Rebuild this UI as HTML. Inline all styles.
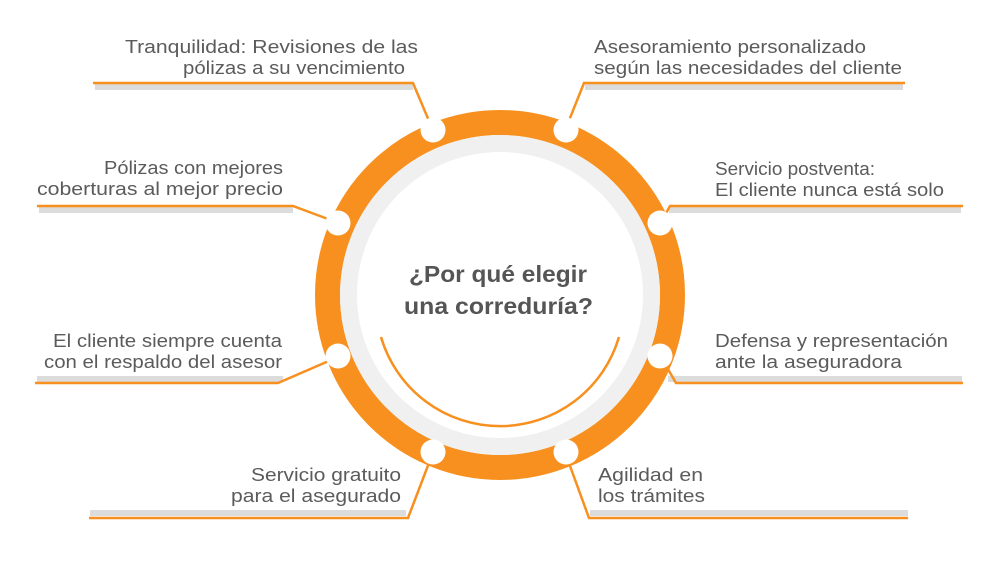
<!DOCTYPE html>
<html><head><meta charset="utf-8"><style>
body{margin:0;background:#fff}
svg{display:block}
text{font-family:"Liberation Sans",sans-serif;fill:#5b5b5b;font-size:18.5px}
</style></head><body>
<svg width="999" height="583" viewBox="0 0 999 583">
<g fill="#dcdcdc">
<rect x="95" y="84" width="318" height="6"/>
<rect x="585" y="84" width="318" height="6"/>
<rect x="39" y="207" width="254" height="6"/>
<rect x="669" y="207" width="292" height="6"/>
<rect x="37" y="376" width="246" height="6"/>
<rect x="668" y="376" width="294" height="6"/>
<rect x="90" y="510" width="316" height="6"/>
<rect x="590" y="510" width="318" height="6"/>
</g>
<g stroke="#f7901e" stroke-width="2.5" fill="none">
<polyline points="93,83 413,83 432,128"/>
<polyline points="905,83 584,83 566,128"/>
<polyline points="37,206 293,206 336,222"/>
<polyline points="963,206 670,206 661,222"/>
<polyline points="35,383 278,383 338,357"/>
<polyline points="963,383 676,383 661,357"/>
<polyline points="89,518 408,518 432,455"/>
<polyline points="908,518 589,518 566,455"/>
</g>
<circle cx="500" cy="295" r="172.5" fill="none" stroke="#f7901e" stroke-width="25"/>
<circle cx="500" cy="295" r="160" fill="#f0f0f0"/>
<circle cx="500" cy="295" r="143" fill="#fff"/>
<path d="M381,337 A124,124 0 0 0 619,337" fill="none" stroke="#f7901e" stroke-width="2.5"/>
<g fill="#fff">
<circle cx="433" cy="130" r="12.5"/><circle cx="566" cy="130" r="12.5"/>
<circle cx="338" cy="223" r="12.5"/><circle cx="660" cy="223" r="12.5"/>
<circle cx="338" cy="356" r="12.5"/><circle cx="660" cy="356" r="12.5"/>
<circle cx="433" cy="452" r="12.5"/><circle cx="566" cy="452" r="12.5"/>
</g>
<text x="409" y="282" textLength="178" lengthAdjust="spacingAndGlyphs" style="font-weight:bold;font-size:23px;fill:#555">¿Por qué elegir</text>
<text x="404" y="314" textLength="189" lengthAdjust="spacingAndGlyphs" style="font-weight:bold;font-size:23px;fill:#555">una correduría?</text>
<g lengthAdjust="spacingAndGlyphs">
<text x="125" y="53" textLength="293" lengthAdjust="spacingAndGlyphs">Tranquilidad: Revisiones de las</text>
<text x="183" y="74" textLength="222" lengthAdjust="spacingAndGlyphs">pólizas a su vencimiento</text>
<text x="104" y="174" textLength="179" lengthAdjust="spacingAndGlyphs">Pólizas con mejores</text>
<text x="37" y="195" textLength="246" lengthAdjust="spacingAndGlyphs">coberturas al mejor precio</text>
<text x="53" y="347" textLength="229" lengthAdjust="spacingAndGlyphs">El cliente siempre cuenta</text>
<text x="44" y="368" textLength="238" lengthAdjust="spacingAndGlyphs">con el respaldo del asesor</text>
<text x="251" y="481" textLength="150" lengthAdjust="spacingAndGlyphs">Servicio gratuito</text>
<text x="231" y="502" textLength="170" lengthAdjust="spacingAndGlyphs">para el asegurado</text>
<text x="594" y="53" textLength="272" lengthAdjust="spacingAndGlyphs">Asesoramiento personalizado</text>
<text x="594" y="74" textLength="308" lengthAdjust="spacingAndGlyphs">según las necesidades del cliente</text>
<text x="715" y="175" textLength="160" lengthAdjust="spacingAndGlyphs">Servicio postventa:</text>
<text x="715" y="196" textLength="229" lengthAdjust="spacingAndGlyphs">El cliente nunca está solo</text>
<text x="715" y="347" textLength="233" lengthAdjust="spacingAndGlyphs">Defensa y representación</text>
<text x="715" y="368" textLength="187" lengthAdjust="spacingAndGlyphs">ante la aseguradora</text>
<text x="598" y="481" textLength="105" lengthAdjust="spacingAndGlyphs">Agilidad en</text>
<text x="598" y="502" textLength="107" lengthAdjust="spacingAndGlyphs">los trámites</text>
</g>
</svg>
</body></html>
